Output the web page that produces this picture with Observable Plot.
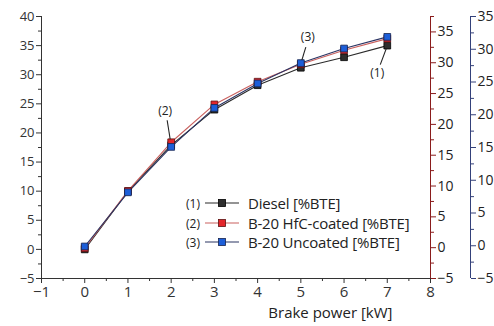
<!DOCTYPE html>
<html><head><meta charset="utf-8">
<script src="https://cdn.jsdelivr.net/npm/d3@7"></script>
<script src="https://cdn.jsdelivr.net/npm/@observablehq/plot@0.6"></script>
<style>
body{margin:0;background:#fff;}
#wrap{position:relative;width:494px;height:326px;font-family:"Open Sans",sans-serif;color:#222;}
.lg{position:absolute;left:181px;height:20px;display:flex;align-items:center;white-space:nowrap;}
.lg .n{width:24px;text-align:center;font-size:12px;}
.lg .t{margin-left:7px;font-size:15px;letter-spacing:-0.2px;}
</style></head>
<body><div id="wrap"></div>
<script>
// ---- data ----
const power = [0, 1, 2, 3, 4, 5, 6, 7];
const seriesNames = ["Diesel [%BTE]", "B-20 HfC-coated [%BTE]", "B-20 Uncoated [%BTE]"];
const diesel   = [0.0, 9.95, 17.9, 24.0, 28.2, 31.2, 33.0, 35.0];
const hfc      = [0.2, 10.05, 18.4, 24.9, 28.8, 31.8, 34.2, 36.2];
const uncoated = [0.5, 9.8, 17.6, 24.3, 28.5, 32.0, 34.5, 36.5];
const leftTicks = [-5, 0, 5, 10, 15, 20, 25, 30, 35, 40];
const redTicks  = [-5, 0, 5, 10, 15, 20, 25, 30, 35];
const blueTicks = [-5, 0, 5, 10, 15, 20, 25, 30, 35];
const xTicks = [-1, 0, 1, 2, 3, 4, 5, 6, 7, 8];

// ---- styles ----
const lineColors = ["#2a2a2a", "#c9605e", "#2b3463"];
const fillColors = ["#2e2e2e", "#e3262b", "#1d5ed8"];
const edgeColors = ["#000000", "#5c1212", "#16244f"];
const redAxis = "#8a1c1c", blueAxis = "#34417a";

const values = [diesel, hfc, uncoated];
const rows = values.flatMap((v, i) => power.map((x, j) => ({s: i, x, y: v[j]})));

// secondary axes map onto the primary (left) scale
const leftDom = [-5, 40], redDom = [-5, 37.5], blueDom = [-5, 35];
const toLeft = dom => v => leftDom[0] + (v - dom[0]) * (leftDom[1] - leftDom[0]) / (dom[1] - dom[0]);
const fromLeft = dom => L => dom[0] + (L - leftDom[0]) * (dom[1] - dom[0]) / (leftDom[1] - leftDom[0]);
const fmt = v => { const r = Math.round(v); return r < 0 ? "\u2212" + (-r) : String(r); };
const minorOf = t => t.slice(0, -1).map(v => v + 2.5);

const W = 494, H = 326, mL = 41, mR = 64, mT = 16, mB = 48;
const pxX = (W - mL - mR) / 9, pxY = (H - mT - mB) / 45;

function leader(si, xi, a, b) {
  const x0 = power[xi], y0 = values[si][xi];
  return {x1: x0 + a[0] / pxX, y1: y0 - a[1] / pxY, x2: x0 + b[0] / pxX, y2: y0 - b[1] / pxY};
}
const leaders = [leader(1, 2, [-4, -22], [-1, -3]), leader(2, 5, [5, -16], [1, -3]), leader(0, 7, [-7, 19], [-1, 3])];

const marks = [
  Plot.ruleY([-5], {stroke: "#333"}),
  Plot.ruleX([-1], {stroke: "#333"}),
  Plot.ruleX([8], {stroke: redAxis, y1: -5, y2: 40}),
  Plot.ruleX([8], {stroke: blueAxis, y1: -5, y2: 40, dx: 40}),
  Plot.axisX(xTicks, {tickSize: 5, fontSize: 15, tickPadding: 3, label: null, color: "#333"}),
  Plot.axisX(xTicks.slice(0, -1).map(v => v + 0.5), {tickSize: 3, tickFormat: () => "", label: null, color: "#333"}),
  Plot.axisY(leftTicks, {tickSize: 5, fontSize: 13, tickPadding: 2, label: null, color: "#333"}),
  Plot.axisY(minorOf(leftTicks), {tickSize: 3, tickFormat: () => "", label: null, color: "#333"}),
  Plot.axisY(redTicks.map(toLeft(redDom)), {anchor: "right", tickSize: 5, fontSize: 14, tickPadding: 2, label: null,
    stroke: redAxis, fill: "#222", tickFormat: d => fmt(fromLeft(redDom)(d))}),
  Plot.axisY(minorOf(redTicks).concat([37.5]).map(toLeft(redDom)), {anchor: "right", tickSize: 3, tickFormat: () => "", label: null, stroke: redAxis}),
  Plot.axisY(blueTicks.map(toLeft(blueDom)), {anchor: "right", dx: 40, tickSize: 5, fontSize: 14, tickPadding: 2, label: null,
    stroke: blueAxis, fill: "#222", tickFormat: d => fmt(fromLeft(blueDom)(d))}),
  Plot.axisY(minorOf(blueTicks).map(toLeft(blueDom)), {anchor: "right", dx: 40, tickSize: 3, tickFormat: () => "", label: null, stroke: blueAxis}),
];
[0, 1, 2].forEach(i => {
  const d = rows.filter(r => r.s === i);
  marks.push(Plot.line(d, {x: "x", y: "y", stroke: lineColors[i], strokeWidth: 1.1}));
});
[0, 1, 2].forEach(i => {
  const d = rows.filter(r => r.s === i);
  marks.push(Plot.dot(d, {x: "x", y: "y", symbol: "square", r: 3.8, fill: fillColors[i], stroke: edgeColors[i], strokeWidth: 0.8}));
});
marks.push(
  Plot.link(leaders, {x1: "x1", y1: "y1", x2: "x2", y2: "y2", stroke: "#222", strokeWidth: 1.1}),
  Plot.text([{x: power[2], y: hfc[2]}], {x: "x", y: "y", text: () => "(2)", dx: -6, dy: -31, fontSize: 12, fill: "#222"}),
  Plot.text([{x: power[5], y: uncoated[5]}], {x: "x", y: "y", text: () => "(3)", dx: 7, dy: -26, fontSize: 12, fill: "#222"}),
  Plot.text([{x: power[7], y: diesel[7]}], {x: "x", y: "y", text: () => "(1)", dx: -10, dy: 28, fontSize: 12, fill: "#222"}),
  Plot.text(["Brake power [kW]"], {frameAnchor: "bottom-right", text: d => d, textAnchor: "end", dx: -38, dy: 39, fontSize: 15, fill: "#222", letterSpacing: -0.3})
);

const chart = Plot.plot({
  width: W, height: H, marginLeft: mL, marginRight: mR, marginTop: mT, marginBottom: mB,
  style: {fontFamily: '"Open Sans", sans-serif', background: "#fff", overflow: "visible"},
  x: {domain: [-1, 8]},
  y: {domain: leftDom},
  marks
});
const wrap = document.getElementById("wrap");
wrap.appendChild(chart);

// legend
const legendTop = [193, 213, 232];
seriesNames.forEach((name, i) => {
  const div = document.createElement("div");
  div.className = "lg";
  div.style.top = legendTop[i] + "px";
  div.innerHTML = `<span class="n">(${i + 1})</span>` +
    `<svg width="36" height="12" style="display:block"><line x1="0" y1="6" x2="34" y2="6" stroke="${lineColors[i]}" stroke-width="1.1"/>` +
    `<rect x="13.5" y="2.5" width="7" height="7" fill="${fillColors[i]}" stroke="${edgeColors[i]}" stroke-width="0.8"/></svg>` +
    `<span class="t">${name}</span>`;
  wrap.appendChild(div);
});
</script>
</body></html>
